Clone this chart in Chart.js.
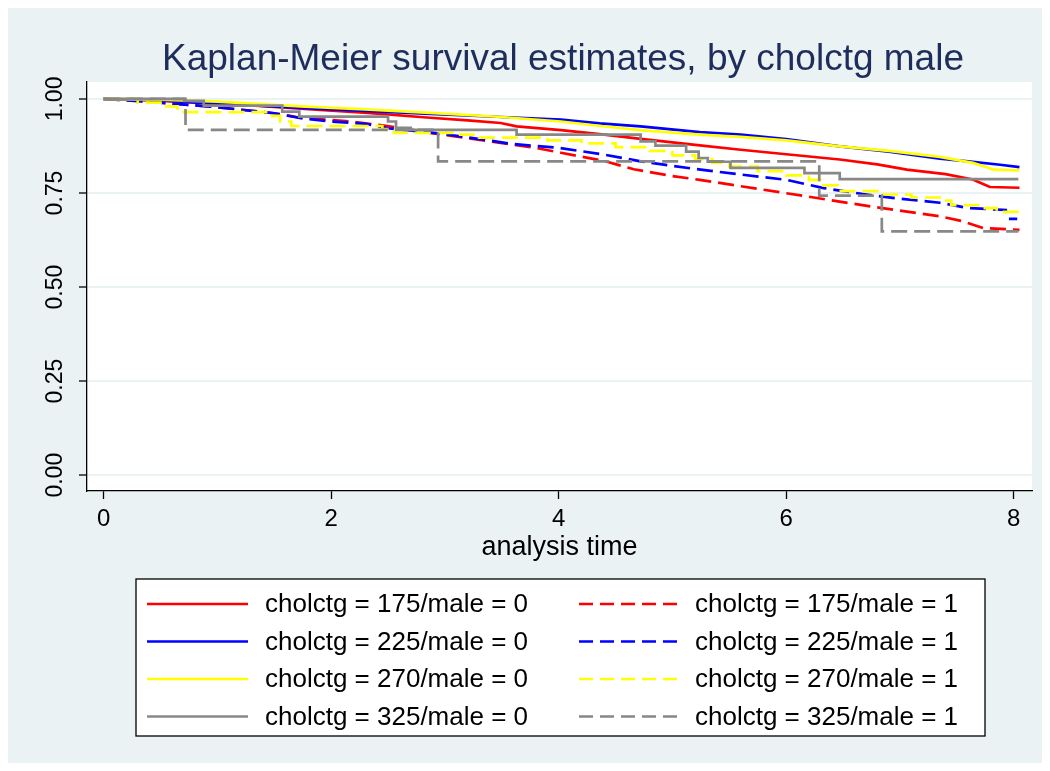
<!DOCTYPE html>
<html>
<head>
<meta charset="utf-8">
<title>Kaplan-Meier survival estimates</title>
<script src="https://cdn.jsdelivr.net/npm/chart.js@4.4.1/dist/chart.umd.min.js"></script>
<style>
  html, body { margin: 0; padding: 0; background: #ffffff; }
  #wrap { width: 1050px; height: 771px; position: relative; }
  canvas { display: block; }
</style>
</head>
<body>
<div id="wrap"><canvas id="km" width="1050" height="771"></canvas></div>
<script>
// Survival estimates by cholesterol category and sex (time in years)
const t175_0 = [0, 0.25, 0.5, 1.0, 1.4, 1.73, 2.32, 2.87, 3.2, 3.49, 3.63, 4.02, 4.4, 4.72, 5.2, 5.6, 6.0, 6.47, 6.8, 7.06, 7.4, 7.64, 7.72, 7.79, 8.05];
const s175_0 = [1, 0.998, 0.995, 0.988, 0.981, 0.974, 0.963, 0.95, 0.943, 0.936, 0.927, 0.917, 0.905, 0.894, 0.878, 0.865, 0.853, 0.839, 0.826, 0.812, 0.8, 0.786, 0.775, 0.766, 0.764];

const t175_1 = [0, 0.3, 0.5, 1.0, 1.5, 1.73, 2.17, 2.45, 2.61, 2.87, 3.2, 3.49, 3.78, 4.02, 4.4, 4.66, 5.0, 5.24, 5.6, 6.18, 6.77, 7.35, 7.55, 7.73, 8.05];
const s175_1 = [1, 0.995, 0.99, 0.978, 0.962, 0.95, 0.94, 0.93, 0.923, 0.91, 0.896, 0.883, 0.871, 0.857, 0.835, 0.813, 0.795, 0.785, 0.768, 0.741, 0.713, 0.688, 0.675, 0.657, 0.652];

const t225_0 = [0, 0.5, 0.81, 1.2, 1.73, 2.3, 2.87, 3.5, 4.02, 4.36, 4.72, 5.24, 5.6, 6.0, 6.47, 6.9, 7.35, 7.6, 7.88, 8.05];
const s225_0 = [1, 0.997, 0.99, 0.985, 0.976, 0.968, 0.96, 0.952, 0.945, 0.935, 0.927, 0.912, 0.905, 0.893, 0.874, 0.86, 0.841, 0.834, 0.825, 0.819];

const t225_1 = [0, 0.5, 1.0, 1.5, 1.75, 2.0, 2.3, 2.5, 2.9, 3.2, 3.6, 4.0, 4.4, 4.72, 5.0, 5.3, 5.6, 6.0, 6.33, 6.5, 6.77, 7.0, 7.35, 7.6, 7.93, 7.95, 8.03];
const s225_1 = [1, 0.99, 0.978, 0.962, 0.948, 0.94, 0.934, 0.922, 0.91, 0.898, 0.88, 0.87, 0.852, 0.834, 0.822, 0.81, 0.799, 0.785, 0.763, 0.755, 0.743, 0.735, 0.724, 0.71, 0.705, 0.681, 0.681];

const t270_0 = [0, 0.5, 1.0, 1.73, 2.3, 2.87, 3.5, 4.02, 4.37, 4.72, 5.24, 5.6, 6.0, 6.47, 6.9, 7.35, 7.64, 7.75, 7.82, 8.05];
const s270_0 = [1, 0.998, 0.993, 0.98, 0.972, 0.963, 0.952, 0.94, 0.928, 0.917, 0.905, 0.899, 0.89, 0.874, 0.862, 0.846, 0.83, 0.82, 0.812, 0.81];

const t270_1 = [0, 0.3, 0.55, 0.65, 1.45, 1.55, 1.65, 2.45, 2.55, 3.1, 3.3, 3.9, 4.2, 4.5, 4.8, 5.0, 5.2, 5.35, 5.5, 5.75, 6.0, 6.2, 6.3, 6.45, 6.8, 7.1, 7.35, 7.45, 7.7, 7.85, 8.05];
const s270_1 = [1, 0.99, 0.98, 0.965, 0.955, 0.94, 0.928, 0.92, 0.91, 0.905, 0.897, 0.89, 0.882, 0.872, 0.862, 0.85, 0.84, 0.83, 0.82, 0.808, 0.797, 0.785, 0.77, 0.755, 0.746, 0.738, 0.73, 0.718, 0.71, 0.70, 0.70];

const t325_0 = [0, 0.71, 0.88, 1.57, 1.72, 2.5, 2.57, 2.7, 3.63, 4.72, 4.85, 5.12, 5.23, 5.31, 5.51, 6.16, 6.47, 8.04];
const s325_0 = [1, 0.995, 0.982, 0.966, 0.953, 0.94, 0.923, 0.918, 0.905, 0.887, 0.876, 0.86, 0.843, 0.833, 0.817, 0.803, 0.787, 0.787];

const t325_1 = [0, 0.72, 2.94, 6.29, 6.84, 8.04];
const s325_1 = [1, 0.918, 0.834, 0.743, 0.648, 0.648];

const groupLabels = [
  'cholctg = 175/male = 0', 'cholctg = 175/male = 1',
  'cholctg = 225/male = 0', 'cholctg = 225/male = 1',
  'cholctg = 270/male = 0', 'cholctg = 270/male = 1',
  'cholctg = 325/male = 0', 'cholctg = 325/male = 1'
];
const xTicks = [0, 2, 4, 6, 8];
const yTicks = [0, 0.25, 0.5, 0.75, 1];

const FONT = '"Liberation Sans", Arial, Helvetica, sans-serif';
const BG = '#eaf2f3';
const DASH = [16, 7];

function pts(ts, ss) { return ts.map((t, i) => ({ x: t, y: ss[i] })); }

const series = [
  { t: t175_0, s: s175_0, color: '#ff0000', dashed: false, stepped: false },
  { t: t175_1, s: s175_1, color: '#ff0000', dashed: true,  stepped: false },
  { t: t225_0, s: s225_0, color: '#0000ff', dashed: false, stepped: false },
  { t: t225_1, s: s225_1, color: '#0000ff', dashed: true,  stepped: false },
  { t: t270_0, s: s270_0, color: '#ffff00', dashed: false, stepped: false },
  { t: t270_1, s: s270_1, color: '#ffff00', dashed: true,  stepped: true  },
  { t: t325_0, s: s325_0, color: '#888888', dashed: false, stepped: true  },
  { t: t325_1, s: s325_1, color: '#888888', dashed: true,  stepped: true  }
];

const datasets = series.map((g, i) => ({
  label: groupLabels[i],
  data: pts(g.t, g.s),
  borderColor: g.color,
  backgroundColor: g.color,
  borderWidth: 2.7,
  borderDash: g.dashed ? DASH : [],
  stepped: g.stepped ? 'before' : false,
  pointRadius: 0,
  tension: 0,
  fill: false,
  order: series.length - 1 - i
}));

// Canvas backdrop, title and boxed two-column key
const framePlugin = {
  id: 'frame',
  beforeDraw(chart) {
    const { ctx, chartArea: a } = chart;
    ctx.save();
    ctx.fillStyle = '#ffffff';
    ctx.fillRect(0, 0, chart.width, chart.height);
    ctx.fillStyle = BG;
    ctx.fillRect(8, 8, 1034, 755);
    ctx.fillStyle = '#ffffff';
    ctx.fillRect(a.left, 82, 1032 - a.left, a.bottom - 82);
    ctx.restore();
  },
  afterDraw(chart) {
    const { ctx } = chart;
    ctx.save();
    // title
    ctx.fillStyle = '#1e2d5c';
    ctx.font = '37px ' + FONT;
    ctx.textAlign = 'center';
    ctx.textBaseline = 'alphabetic';
    ctx.fillText('Kaplan-Meier survival estimates, by cholctg male', 563, 70);

    // key box
    const box = { l: 136, t: 579, r: 985, b: 736 };
    ctx.fillStyle = '#ffffff';
    ctx.fillRect(box.l, box.t, box.r - box.l, box.b - box.t);
    ctx.strokeStyle = '#000000';
    ctx.lineWidth = 1.3;
    ctx.strokeRect(box.l, box.t, box.r - box.l, box.b - box.t);

    const rowY = [604, 641.5, 679, 716.5];
    const cols = [{ x0: 147, x1: 248, tx: 265 }, { x0: 579, x1: 679, tx: 695 }];
    ctx.font = '26px ' + FONT;
    ctx.textAlign = 'left';
    ctx.textBaseline = 'middle';
    chart.data.datasets.forEach((ds, i) => {
      const c = cols[i % 2];
      const y = rowY[Math.floor(i / 2)];
      ctx.strokeStyle = ds.borderColor;
      ctx.lineWidth = ds.borderWidth;
      ctx.setLineDash(ds.borderDash.length ? [14, 7] : []);
      ctx.beginPath();
      ctx.moveTo(c.x0, y);
      ctx.lineTo(c.x1, y);
      ctx.stroke();
      ctx.setLineDash([]);
      ctx.fillStyle = '#000000';
      ctx.fillText(ds.label, c.tx, y + 1);
    });
    ctx.restore();
  }
};

new Chart(document.getElementById('km'), {
  type: 'line',
  data: { datasets },
  plugins: [framePlugin],
  options: {
    responsive: false,
    animation: false,
    devicePixelRatio: 1,
    layout: { padding: { left: 8, top: 82, right: 18, bottom: 200 } },
    plugins: { legend: { display: false }, title: { display: false }, tooltip: { enabled: false } },
    scales: {
      x: {
        type: 'linear',
        min: -0.146,
        max: 8.16,
        afterBuildTicks: (scale) => { scale.ticks = xTicks.map(v => ({ value: v })); },
        afterFit: (scale) => { scale.height = 80; },
        ticks: { color: '#000', font: { family: FONT, size: 24 }, padding: 6, maxRotation: 0, autoSkip: false },
        grid: { drawOnChartArea: false, drawTicks: true, tickLength: 8, tickColor: '#000', tickWidth: 1.3 },
        border: { display: true, color: '#000', width: 1.3 },
        title: { display: true, text: 'analysis time', color: '#000', font: { family: FONT, size: 27 }, padding: { top: 0, bottom: 7 } }
      },
      y: {
        type: 'linear',
        min: -0.042,
        max: 1.045,
        afterBuildTicks: (scale) => { scale.ticks = yTicks.map(v => ({ value: v })); },
        afterFit: (scale) => { scale.width = 79; },
        ticks: {
          color: '#000', font: { family: FONT, size: 23 }, padding: 1,
          minRotation: 90, maxRotation: 90, crossAlign: 'center', autoSkip: false,
          callback: (v) => Number(v).toFixed(2)
        },
        grid: { color: BG, lineWidth: 2, drawTicks: true, tickLength: 8, tickColor: '#000', tickWidth: 1.3 },
        border: { display: true, color: '#000', width: 1.3 }
      }
    }
  }
});
</script>
</body>
</html>
